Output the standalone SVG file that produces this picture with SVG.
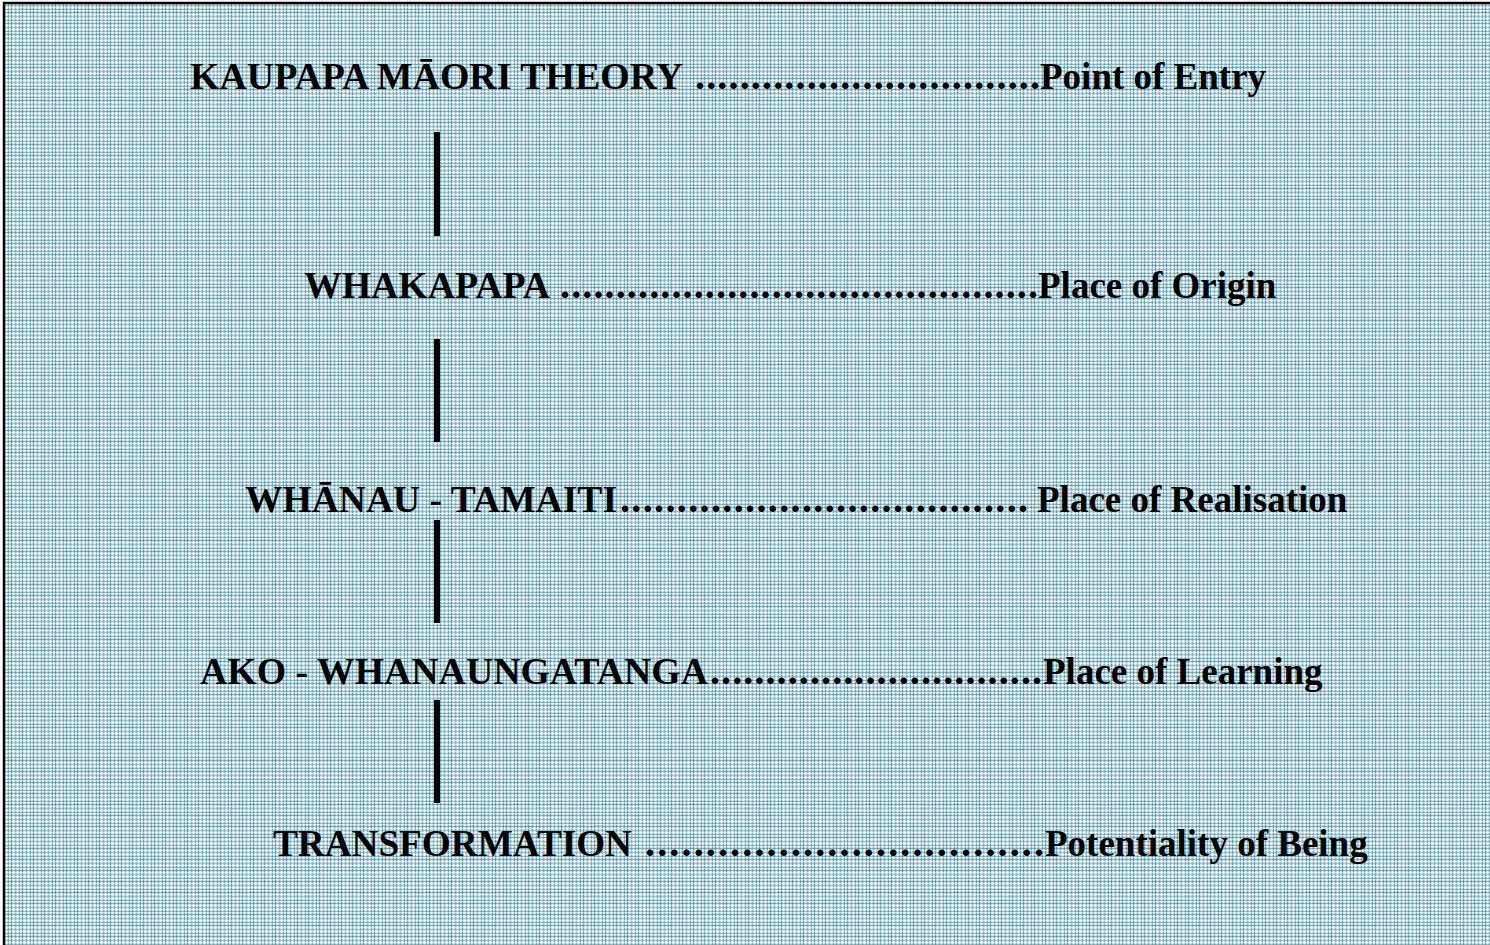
<svg xmlns="http://www.w3.org/2000/svg" width="1490" height="945" viewBox="0 0 1490 945">
<defs>
<pattern id="plaid" x="0" y="0" width="11" height="11" patternUnits="userSpaceOnUse">
<rect width="11" height="11" fill="#c4dce2"/>
<g opacity="0.8">
<rect x="0" y="0" width="1" height="11" fill="#4a8a9a"/>
<rect x="2" y="0" width="1" height="11" fill="#f2f8f9"/>
<rect x="4" y="0" width="1" height="11" fill="#78acb8"/>
<rect x="6" y="0" width="1" height="11" fill="#ffffff"/>
<rect x="8" y="0" width="1" height="11" fill="#5897a6"/>
<rect x="9" y="0" width="1" height="11" fill="#e6f1f3"/>
</g>
<g opacity="0.6">
<rect x="0" y="1" width="11" height="1" fill="#4a8a9a"/>
<rect x="0" y="3" width="11" height="1" fill="#f2f8f9"/>
<rect x="0" y="5" width="11" height="1" fill="#78acb8"/>
<rect x="0" y="7" width="11" height="1" fill="#ffffff"/>
<rect x="0" y="9" width="11" height="1" fill="#5897a6"/>
<rect x="0" y="10" width="11" height="1" fill="#e6f1f3"/>
</g>
</pattern>
</defs>
<style>
.t { font-family: 'Liberation Serif', serif; font-weight: 700; font-size: 37px; fill: #000; }
.d { font-size: 40px; }
.bar { fill: #000; }
</style>
<rect x="0" y="0" width="1490" height="945" fill="#ffffff"/>
<rect x="4" y="3" width="1500" height="960" fill="url(#plaid)" stroke="#000" stroke-width="2.5"/>
<g id="connectors">
<rect class="bar" x="434" y="132" width="6" height="104"/>
<rect class="bar" x="434" y="339" width="6" height="103"/>
<rect class="bar" x="434" y="520" width="6" height="103"/>
<rect class="bar" x="434" y="700" width="6" height="103"/>
</g>
<g class="t" font-family="'Liberation Serif', serif" font-weight="bold" font-size="37">
<g id="node-kaupapa">
<text x="190" y="89" textLength="493" lengthAdjust="spacingAndGlyphs">KAUPAPA MĀORI THEORY</text>
<text class="d" x="695" y="89" textLength="345" lengthAdjust="spacing">...............................</text>
<text x="1040" y="89">Point of Entry</text>
</g>
<g id="node-whakapapa">
<text x="304" y="298" textLength="246" lengthAdjust="spacingAndGlyphs">WHAKAPAPA</text>
<text class="d" x="560" y="298" textLength="478" lengthAdjust="spacing">...........................................</text>
<text x="1038" y="298">Place of Origin</text>
</g>
<g id="node-whanau">
<text x="245" y="512" textLength="372" lengthAdjust="spacingAndGlyphs">WHĀNAU - TAMAITI</text>
<text class="d" x="620" y="512" textLength="408" lengthAdjust="spacing">....................................</text>
<text x="1037" y="512">Place of Realisation</text>
</g>
<g id="node-ako">
<text x="200" y="684" textLength="508" lengthAdjust="spacingAndGlyphs">AKO - WHANAUNGATANGA</text>
<text class="d" x="710" y="684" textLength="332" lengthAdjust="spacing">..............................</text>
<text x="1043" y="684">Place of Learning</text>
</g>
<g id="node-transformation">
<text x="273" y="856" textLength="359" lengthAdjust="spacingAndGlyphs">TRANSFORMATION</text>
<text class="d" x="645" y="856" textLength="399" lengthAdjust="spacing">.................................</text>
<text x="1045" y="856">Potentiality of Being</text>
</g>
</g>
</svg>
